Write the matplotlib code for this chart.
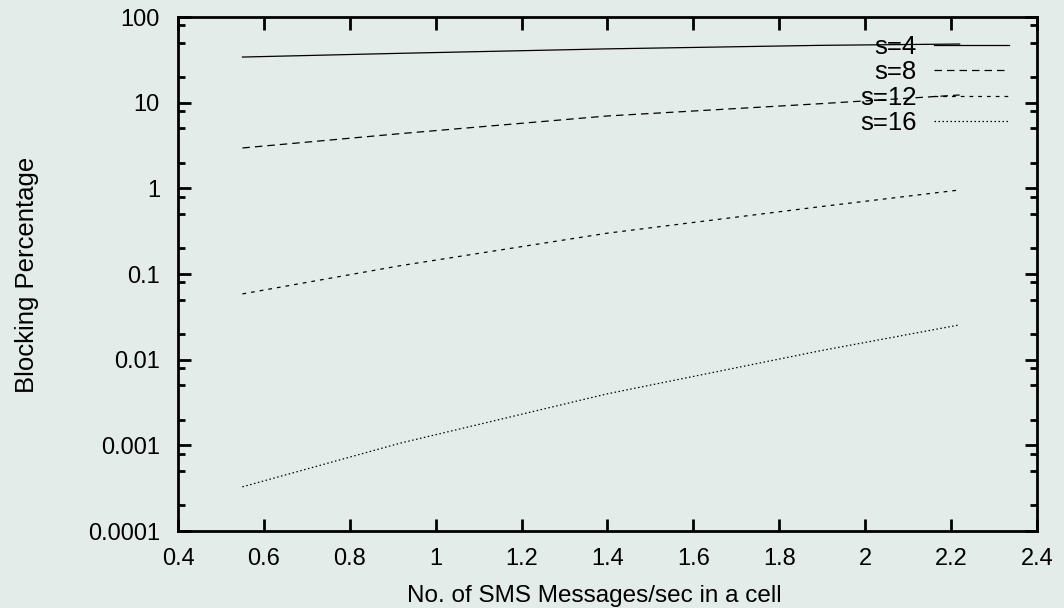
import matplotlib
matplotlib.use('Agg')
import matplotlib.pyplot as plt
from matplotlib.ticker import LogLocator, FuncFormatter, FixedLocator, NullFormatter
import numpy as np

plt.rcParams['font.family'] = ['Liberation Sans', 'DejaVu Sans']

# SMS messages/sec in a cell
x = [0.55, 0.917, 1.4, 1.895, 2.22]
# blocking percentage per number of channels s
s4 = [34.1, 37.7, 42.5, 46.7, 48.4]
s8 = [2.96, 4.35, 7.0, 9.73, 12.3]
s12 = [0.0586, 0.125, 0.30, 0.611, 0.958]
s16 = [0.000328, 0.00106, 0.0040, 0.0127, 0.0255]

labels = ['s=4', 's=8', 's=12', 's=16']
xticks = [0.4, 0.6, 0.8, 1, 1.2, 1.4, 1.6, 1.8, 2, 2.2, 2.4]
yticks = [0.0001, 0.001, 0.01, 0.1, 1, 10, 100]

bg = '#e4ecea'
fig = plt.figure(figsize=(10.64, 6.08), dpi=100, facecolor=bg)
ax = fig.add_axes([0.1673, 0.1266, 0.8073, 0.8454], facecolor=bg)

styles = ['-', (0, (6, 4)), (0, (3, 4)), (0, (1.2, 2))]
for ys, lab, ls in zip([s4, s8, s12, s16], labels, styles):
    ax.plot(x, ys, color='black', lw=0.9, linestyle=ls, label=lab)

ax.set_yscale('log')
ax.set_xlim(0.4, 2.4)
ax.set_ylim(0.0001, 100)
ax.xaxis.set_major_locator(FixedLocator(xticks))
ax.xaxis.set_major_formatter(FuncFormatter(lambda v, p: '%g' % v))
ax.yaxis.set_major_locator(FixedLocator(yticks))
ax.yaxis.set_major_formatter(FuncFormatter(lambda v, p: '%g' % v))
ax.yaxis.set_minor_locator(LogLocator(base=10, subs=(2, 5, 8)))
ax.yaxis.set_minor_formatter(NullFormatter())

for sp in ax.spines.values():
    sp.set_linewidth(2)
ax.tick_params(which='both', direction='in', top=True, right=True, width=2,
               labelsize=17)
ax.tick_params(which='major', length=9)
ax.tick_params(which='minor', length=5)
ax.tick_params(axis='x', pad=12)
ax.tick_params(axis='y', pad=13)

fig.text(0.559, 1 - 602 / 608, 'No. of SMS Messages/sec in a cell',
         fontsize=17.5, ha='center', va='baseline')
fig.text(27 / 1064, 0.5485, 'Blocking Percentage', fontsize=18.5,
         rotation=90, ha='center', va='center')

ax.legend(loc='upper right', frameon=False, markerfirst=False, fontsize=18.5,
          handlelength=2.92, labelspacing=0.05, handletextpad=0.66,
          borderpad=0, borderaxespad=0, bbox_to_anchor=(0.9674, 0.965))

fig.savefig('out.png', dpi=100, facecolor=bg)
